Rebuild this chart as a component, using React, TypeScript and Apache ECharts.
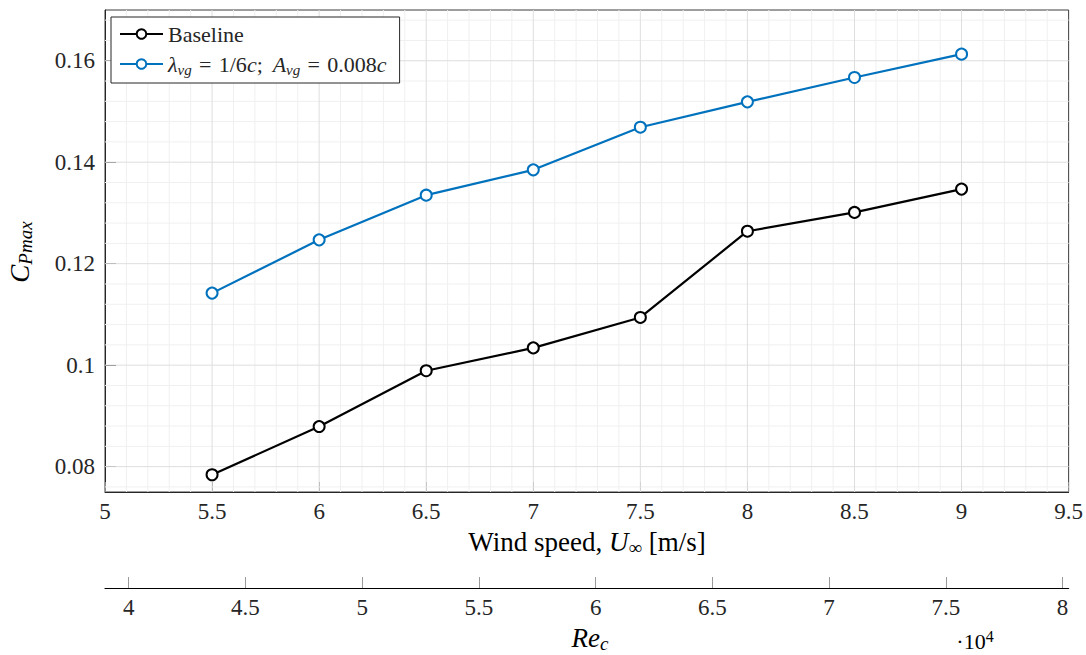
import { useEffect, useRef } from "react";
import * as echarts from "echarts";

// Wind speed [m/s] at which the rotor was tested
const windSpeed = [5.5, 6, 6.5, 7, 7.5, 8, 8.5, 9];
// Maximum power coefficient, clean blade
const cpBaseline = [0.0784, 0.0879, 0.0989, 0.1034, 0.1094, 0.1264, 0.1301, 0.1347];
// Maximum power coefficient with vortex generators
const cpVortexGen = [0.1142, 0.1247, 0.1335, 0.1385, 0.1469, 0.1519, 0.1567, 0.1613];

const cpTicks = [0.08, 0.1, 0.12, 0.14, 0.16];
const reTicks = [4, 4.5, 5, 5.5, 6, 6.5, 7, 7.5, 8]; // ×10^4
const speedRange = [5, 9.5];
const cpRange = [0.075, 0.17];
const reRange = [3.8985, 8.026];

const BASE_NAME = "Baseline";
const VG_NAME = "λvg = 1/6c; Avg = 0.008c";

const FONT = "Liberation Serif";
const INK = "#262626";

// grid lines: [direction (0 = vertical, 1 = horizontal), value, major flag]
function buildGridLines(): number[][] {
  const minor: number[][] = [];
  const major: number[][] = [];
  for (let k = 1; k < 45; k++) {
    const v = +(speedRange[0] + k * 0.1).toFixed(2);
    (k % 5 === 0 ? major : minor).push([0, v, k % 5 === 0 ? 1 : 0]);
  }
  for (let k = 19; k <= 42; k++) {
    const v = +(k * 0.004).toFixed(4);
    (k % 5 === 0 ? major : minor).push([1, v, k % 5 === 0 ? 1 : 0]);
  }
  return [...minor, ...major];
}

const rich = {
  n: { fontFamily: FONT, fontSize: 22, color: INK, lineHeight: 26 },
  i: { fontFamily: FONT, fontSize: 22, fontStyle: "italic", color: INK, lineHeight: 26 },
  sub: { fontFamily: FONT, fontSize: 15, fontStyle: "italic", color: INK, verticalAlign: "bottom" },
};

const titleRich = {
  n: { fontFamily: FONT, fontSize: 27, color: INK, lineHeight: 30 },
  i: { fontFamily: FONT, fontSize: 27, fontStyle: "italic", color: INK, lineHeight: 30 },
  sub: { fontFamily: FONT, fontSize: 19, color: INK, verticalAlign: "bottom" },
  subi: { fontFamily: FONT, fontSize: 19, fontStyle: "italic", color: INK, verticalAlign: "bottom" },
};

// math-style spacing around the relation sign
const EQ = "\u2004=\u2004";

export default function App() {
  const ref = useRef<HTMLDivElement>(null);

  useEffect(() => {
    if (!ref.current) return;
    const chart = echarts.init(ref.current, null, { renderer: "svg" });

    const option: any = {
      animation: false,
      backgroundColor: "#ffffff",
      textStyle: { fontFamily: FONT },
      grid: {
        left: 105,
        top: 10,
        width: 964,
        height: 482,
        show: true,
        backgroundColor: "#ffffff",
        borderColor: "#3c3c3c",
        borderWidth: 1,
      },
      xAxis: [
        {
          type: "value",
          min: speedRange[0],
          max: speedRange[1],
          interval: 0.5,
          position: "bottom",
          axisLine: { show: true, onZero: false, lineStyle: { color: INK, width: 1 } },
          axisTick: { show: true, inside: true, length: 10, lineStyle: { color: "#8a8a8a" } },
          axisLabel: {
            margin: 8,
            fontFamily: FONT,
            fontSize: 23,
            color: INK,
            formatter: (v: number) => String(v),
          },
          splitLine: { show: false },
        },
        {
          type: "value",
          min: reRange[0],
          max: reRange[1],
          position: "bottom",
          offset: 96,
          axisLine: { show: true, onZero: false, lineStyle: { color: "#000000", width: 1.2 } },
          axisTick: {
            show: true,
            inside: true,
            length: 11,
            customValues: reTicks,
            lineStyle: { color: "#9a9a9a" },
          },
          axisLabel: {
            margin: 8,
            fontFamily: FONT,
            fontSize: 23,
            color: INK,
            customValues: reTicks,
            formatter: (v: number) => String(v),
          },
          splitLine: { show: false },
        },
      ],
      yAxis: {
        type: "value",
        min: cpRange[0],
        max: cpRange[1],
        axisLine: { show: true, onZero: false, lineStyle: { color: INK, width: 1 } },
        axisTick: {
          show: true,
          inside: true,
          length: 11,
          customValues: cpTicks,
          lineStyle: { color: INK },
        },
        axisLabel: {
          margin: 10,
          fontFamily: FONT,
          fontSize: 23,
          color: INK,
          customValues: cpTicks,
          formatter: (v: number) => String(+v.toFixed(3)),
        },
        splitLine: { show: false },
      },
      legend: {
        left: 111,
        top: 17,
        orient: "vertical",
        itemWidth: 43,
        itemHeight: 12,
        itemGap: 8,
        padding: [6, 13, 6, 8],
        backgroundColor: "#ffffff",
        borderColor: INK,
        borderWidth: 1,
        borderRadius: 0,
        data: [BASE_NAME, VG_NAME],
        textStyle: { fontFamily: FONT, fontSize: 22, color: INK, rich },
        formatter: (name: string) =>
          name === VG_NAME
            ? "{i|λ}{sub|vg}{n|" + EQ + "1/6}{i|c}{n|;\u2009 }{i|A}{sub|vg}{n|" + EQ + "0.008}{i|c}"
            : "{n|" + name + "}",
      },
      graphic: [
        {
          type: "text",
          x: 587,
          y: 542,
          silent: true,
          style: {
            text: "{n|Wind speed, }{i|U}{sub|∞}{n| [m/s]}",
            rich: titleRich,
            align: "center",
            verticalAlign: "middle",
            textAlign: "center",
            textVerticalAlign: "middle",
          },
        },
        {
          type: "text",
          x: 590,
          y: 638,
          silent: true,
          style: {
            text: "{i|Re}{subi|c}",
            rich: titleRich,
            align: "center",
            verticalAlign: "middle",
            textAlign: "center",
            textVerticalAlign: "middle",
          },
        },
        {
          type: "text",
          x: 975,
          y: 641,
          silent: true,
          style: {
            text: "{n|·10}{sup|4}",
            rich: {
              n: { fontFamily: FONT, fontSize: 22, color: INK, lineHeight: 26 },
              sup: { fontFamily: FONT, fontSize: 16, color: INK, verticalAlign: "top" },
            },
            align: "center",
            verticalAlign: "middle",
            textAlign: "center",
            textVerticalAlign: "middle",
          },
        },
        {
          type: "text",
          x: 20,
          y: 252,
          rotation: Math.PI / 2,
          silent: true,
          style: {
            text: "{i|C}{subi|Pmax}",
            rich: titleRich,
            align: "center",
            verticalAlign: "middle",
            textAlign: "center",
            textVerticalAlign: "middle",
          },
        },
      ],
      series: [
        {
          type: "custom",
          name: "grid",
          silent: true,
          z: 1,
          xAxisIndex: 0,
          yAxisIndex: 0,
          data: buildGridLines(),
          renderItem: (_params: any, api: any) => {
            const dir = api.value(0);
            const v = api.value(1);
            const major = api.value(2);
            const p1 =
              dir === 0 ? api.coord([v, cpRange[0]]) : api.coord([speedRange[0], v]);
            const p2 =
              dir === 0 ? api.coord([v, cpRange[1]]) : api.coord([speedRange[1], v]);
            return {
              type: "line",
              shape: { x1: p1[0], y1: p1[1], x2: p2[0], y2: p2[1] },
              style: { stroke: major ? "#dedede" : "#f0f0f0", lineWidth: 1 },
            };
          },
        },
        {
          type: "line",
          name: BASE_NAME,
          z: 3,
          xAxisIndex: 0,
          data: windSpeed.map((x, i) => [x, cpBaseline[i]]),
          color: "#000000",
          symbol: "emptyCircle",
          symbolSize: 11,
          lineStyle: { width: 2.2, color: "#000000" },
          itemStyle: { color: "#000000", borderWidth: 1.4 },
        },
        {
          type: "line",
          name: VG_NAME,
          z: 3,
          xAxisIndex: 0,
          data: windSpeed.map((x, i) => [x, cpVortexGen[i]]),
          color: "#0072bd",
          symbol: "emptyCircle",
          symbolSize: 11,
          lineStyle: { width: 2.2, color: "#0072bd" },
          itemStyle: { color: "#0072bd", borderWidth: 1.4 },
        },
      ],
    };

    chart.setOption(option);
    return () => chart.dispose();
  }, []);

  return (
    <div
      ref={ref}
      style={{ position: "fixed", left: 0, top: 0, width: 1086, height: 655, background: "#fff" }}
    />
  );
}
